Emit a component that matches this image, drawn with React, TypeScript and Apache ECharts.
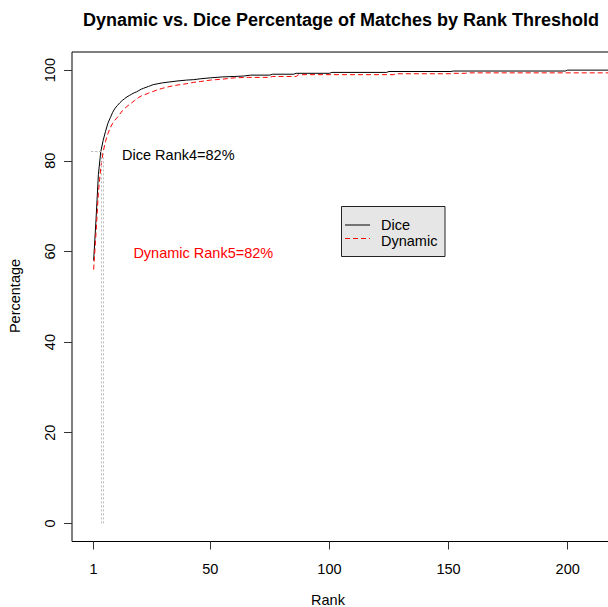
import React, { useEffect, useRef } from "react";
import * as echarts from "echarts";

// Rank threshold (x) and cumulative percentage of matches (y)
const diceRanks = [1, 2, 3, 4, 5, 6, 7, 8, 9, 10, 11, 12, 13, 14, 15, 16, 17, 18, 19, 20, 21, 22, 23, 24, 25, 26, 28, 30, 33, 36, 40, 43, 46, 50, 55, 60, 64, 67, 75, 76, 85, 86, 100, 101, 124, 125, 151, 152, 199, 200, 228];
const diceValues = [58, 67, 77, 82, 84.5, 86.5, 88.3, 89.5, 90.7, 91.6, 92.2, 92.8, 93.3, 93.7, 94.1, 94.4, 94.7, 95.0, 95.2, 95.5, 95.8, 96.0, 96.2, 96.4, 96.6, 96.8, 97.0, 97.2, 97.4, 97.6, 97.8, 97.9, 98.1, 98.3, 98.5, 98.6, 98.7, 98.9, 98.9, 99.1, 99.1, 99.3, 99.3, 99.5, 99.5, 99.7, 99.7, 99.8, 99.8, 100, 100];

const dynamicRanks = [1, 2, 3, 4, 5, 6, 7, 8, 9, 10, 11, 12, 13, 14, 15, 16, 17, 18, 19, 20, 21, 22, 24, 26, 28, 30, 33, 36, 40, 43, 46, 50, 55, 60, 66, 75, 76, 86, 87, 127, 128, 151, 152, 157, 158, 228];
const dynamicValues = [56, 64, 73, 78.5, 82, 84.3, 86.0, 87.3, 88.3, 89.0, 89.6, 90.3, 91.0, 91.5, 92.0, 92.4, 92.8, 93.2, 93.6, 94.0, 94.3, 94.5, 94.9, 95.3, 95.7, 96.0, 96.4, 96.7, 97.0, 97.3, 97.5, 97.8, 98.0, 98.3, 98.4, 98.4, 98.6, 98.6, 99.0, 99.0, 99.2, 99.2, 99.3, 99.3, 99.4, 99.4];

const xTicks = [1, 50, 100, 150, 200];
const yTicks = [0, 20, 40, 60, 80, 100];

const diceRank = 4;
const dynamicRank = 5;
const thresholdPct = 82;

const N = 228;
const XMIN = 1 - 0.04 * (N - 1);
const XMAX = N + 0.04 * (N - 1);

const FONT = "'Liberation Sans', Arial, sans-serif";

export default function App() {
  const ref = useRef<HTMLDivElement>(null);

  useEffect(() => {
    if (!ref.current) return;
    const chart = echarts.init(ref.current, null, { renderer: "svg" });

    const refLine = (rank: number) => ({
      silent: true,
      symbol: "none",
      label: { show: false },
      lineStyle: { color: "#bdbdbd", type: [2, 2], width: 1 },
      data: [
        [{ coord: [0, thresholdPct] }, { coord: [rank, thresholdPct] }],
        [{ coord: [rank, 0] }, { coord: [rank, thresholdPct] }],
      ],
    });

    chart.setOption({
      animation: false,
      grid: {
        left: 72,
        top: 52,
        width: 584,
        height: 489.5,
        show: true,
        borderColor: "#000",
        borderWidth: 1,
        backgroundColor: "transparent",
      },
      xAxis: {
        type: "value",
        min: XMIN,
        max: XMAX,
        axisLine: { show: false, onZero: false },
        splitLine: { show: false },
        axisTick: { show: true, length: 8, inside: false, customValues: xTicks, lineStyle: { color: "#333" } },
        axisLabel: { customValues: xTicks, margin: 20, fontSize: 14.5, color: "#000", fontFamily: FONT },
      },
      yAxis: {
        type: "value",
        min: -4,
        max: 104,
        axisLine: { show: false, onZero: false },
        splitLine: { show: false },
        axisTick: { show: true, length: 8, inside: false, customValues: yTicks, lineStyle: { color: "#333" } },
        axisLabel: { customValues: yTicks, rotate: 90, margin: 15, fontSize: 14.5, color: "#000", fontFamily: FONT },
      },
      series: [
        {
          name: "Dice",
          type: "line",
          data: diceRanks.map((r, i) => [r, diceValues[i]]),
          showSymbol: false,
          symbol: "none",
          lineStyle: { color: "#000", width: 1 },
          markLine: refLine(diceRank),
        },
        {
          name: "Dynamic",
          type: "line",
          data: dynamicRanks.map((r, i) => [r, dynamicValues[i]]),
          showSymbol: false,
          symbol: "none",
          lineStyle: { color: "#ff0000", width: 1, type: [5, 3] },
          markLine: refLine(dynamicRank),
        },
      ],
      graphic: [
        {
          type: "text",
          x: 341,
          y: 20,
          style: {
            text: "Dynamic vs. Dice Percentage of Matches by Rank Threshold",
            font: `bold 18px ${FONT}`,
            fill: "#000",
            align: "center",
            verticalAlign: "middle",
          },
        },
        {
          type: "text",
          x: 328,
          y: 600,
          style: { text: "Rank", font: `14.5px ${FONT}`, fill: "#000", align: "center", verticalAlign: "middle" },
        },
        {
          type: "text",
          x: 15,
          y: 296,
          rotation: Math.PI / 2,
          style: { text: "Percentage", font: `14.5px ${FONT}`, fill: "#000", align: "center", verticalAlign: "middle" },
        },
        {
          type: "text",
          x: 178.3,
          y: 155,
          style: { text: `Dice Rank${diceRank}=${thresholdPct}%`, font: `14.5px ${FONT}`, fill: "#000", align: "center", verticalAlign: "middle" },
        },
        {
          type: "text",
          x: 203.3,
          y: 253,
          style: { text: `Dynamic Rank${dynamicRank}=${thresholdPct}%`, font: `14.5px ${FONT}`, fill: "#ff0000", align: "center", verticalAlign: "middle" },
        },
        {
          type: "group",
          children: [
            {
              type: "rect",
              shape: { x: 341.5, y: 206.5, width: 103.5, height: 50 },
              style: { fill: "#e6e6e6", stroke: "#222", lineWidth: 1 },
            },
            {
              type: "line",
              shape: { x1: 345, y1: 225, x2: 370, y2: 225 },
              style: { stroke: "#000", lineWidth: 1 },
            },
            {
              type: "line",
              shape: { x1: 345, y1: 238.5, x2: 370, y2: 238.5 },
              style: { stroke: "#ff0000", lineWidth: 1, lineDash: [5, 3] },
            },
            {
              type: "text",
              x: 381,
              y: 225,
              style: { text: "Dice", font: `14.5px ${FONT}`, fill: "#000", align: "left", verticalAlign: "middle" },
            },
            {
              type: "text",
              x: 381,
              y: 241,
              style: { text: "Dynamic", font: `14.5px ${FONT}`, fill: "#000", align: "left", verticalAlign: "middle" },
            },
          ],
        },
      ],
    });

    return () => chart.dispose();
  }, []);

  return (
    <div style={{ position: "absolute", left: 0, top: 0, width: 608, height: 607, overflow: "hidden", background: "#fff" }}>
      <div ref={ref} style={{ width: 660, height: 607 }} />
    </div>
  );
}
